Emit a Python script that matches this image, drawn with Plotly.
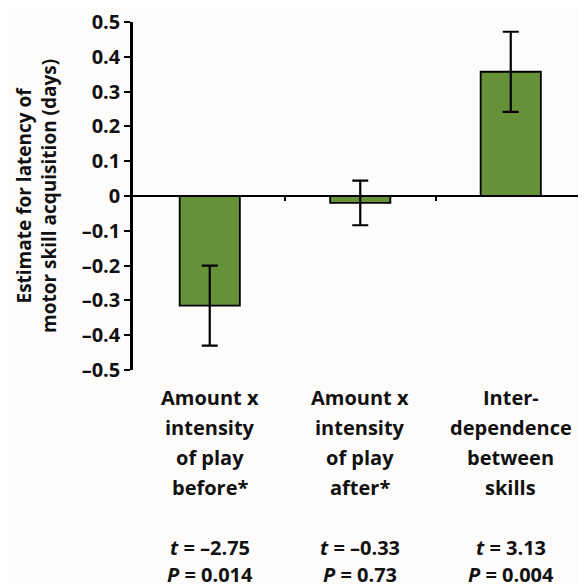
import plotly.graph_objects as go

# data
categories = ["before", "after", "interdependence"]
label_lines = [
    ["Amount x", "intensity", "of play", "before*"],
    ["Amount x", "intensity", "of play", "after*"],
    ["Inter-", "dependence", "between", "skills"],
]
estimates = [-0.315, -0.02, 0.357]
errors = [0.115, 0.064, 0.115]
t_values = ["\u20132.75", "\u20130.33", "3.13"]
p_values = ["0.014", "0.73", "0.004"]

green = "#659139"
font_family = "Open Sans"
text_color = "#111111"

fig = go.Figure()

fig.add_trace(go.Bar(
    x=list(range(len(categories))),
    y=estimates,
    width=0.4,
    marker=dict(color=green, line=dict(color="black", width=1.8)),
    error_y=dict(type="data", array=errors, color="black", thickness=2.2, width=8),
    showlegend=False,
))

# category labels and statistics under the plot
for i, lines in enumerate(label_lines):
    for j, line in enumerate(lines):
        fig.add_annotation(x=i, y=0, xref="x", yref="paper", text="<b>" + line + "</b>",
                           showarrow=False, yanchor="middle", yshift=-27 - 30 * j,
                           font=dict(size=20, color=text_color, family=font_family))
    fig.add_annotation(x=i, y=0, xref="x", yref="paper",
                       text="<b><i>t</i> = " + t_values[i] + "</b>",
                       showarrow=False, yanchor="middle", yshift=-177,
                       font=dict(size=20, color=text_color, family=font_family))
    fig.add_annotation(x=i, y=0, xref="x", yref="paper",
                       text="<b><i>P</i> = " + p_values[i] + "</b>",
                       showarrow=False, yanchor="middle", yshift=-204,
                       font=dict(size=20, color=text_color, family=font_family))

# y axis title
fig.add_annotation(x=0, y=0.5, xref="paper", yref="paper",
                   text="<b>Estimate for latency of<br>motor skill acquisition (days)</b>",
                   textangle=-90, showarrow=False, xanchor="center", yanchor="middle",
                   xshift=-97,
                   font=dict(size=19, color=text_color, family=font_family))

# the page body adds an 8px offset, so the figure is 8px smaller than the window
fig.update_layout(
    width=578, height=576,
    margin=dict(l=125, r=0, t=12, b=214),
    paper_bgcolor="#fefcfb",
    plot_bgcolor="#fefcfb",
    font=dict(family=font_family, color=text_color),
    xaxis=dict(
        range=[-0.51, 2.5],
        anchor="free", position=0.5,
        showline=True, linecolor="black", linewidth=2,
        tickmode="array", tickvals=[0.5, 1.5, 2.5], ticktext=["", "", ""],
        ticks="outside", ticklen=4, tickwidth=2, tickcolor="black",
        showgrid=False, zeroline=False,
    ),
    yaxis=dict(
        range=[-0.5, 0.5],
        tickmode="array",
        tickvals=[0.5, 0.4, 0.3, 0.2, 0.1, 0, -0.1, -0.2, -0.3, -0.4, -0.5],
        ticktext=["<b>0.5</b>", "<b>0.4</b>", "<b>0.3</b>", "<b>0.2</b>", "<b>0.1</b>", "<b>0</b>",
                  "<b>\u20130.1</b>", "<b>\u20130.2</b>", "<b>\u20130.3</b>", "<b>\u20130.4</b>",
                  "<b>\u20130.5</b>"],
        tickfont=dict(size=20, color=text_color, family=font_family),
        ticklabeloverflow="allow",
        showline=True, linecolor="black", linewidth=2.5,
        ticks="outside", ticklen=6, tickwidth=2, tickcolor="black",
        ticklabelstandoff=0,
        showgrid=False, zeroline=False,
    ),
)

fig.write_html("out.html")
